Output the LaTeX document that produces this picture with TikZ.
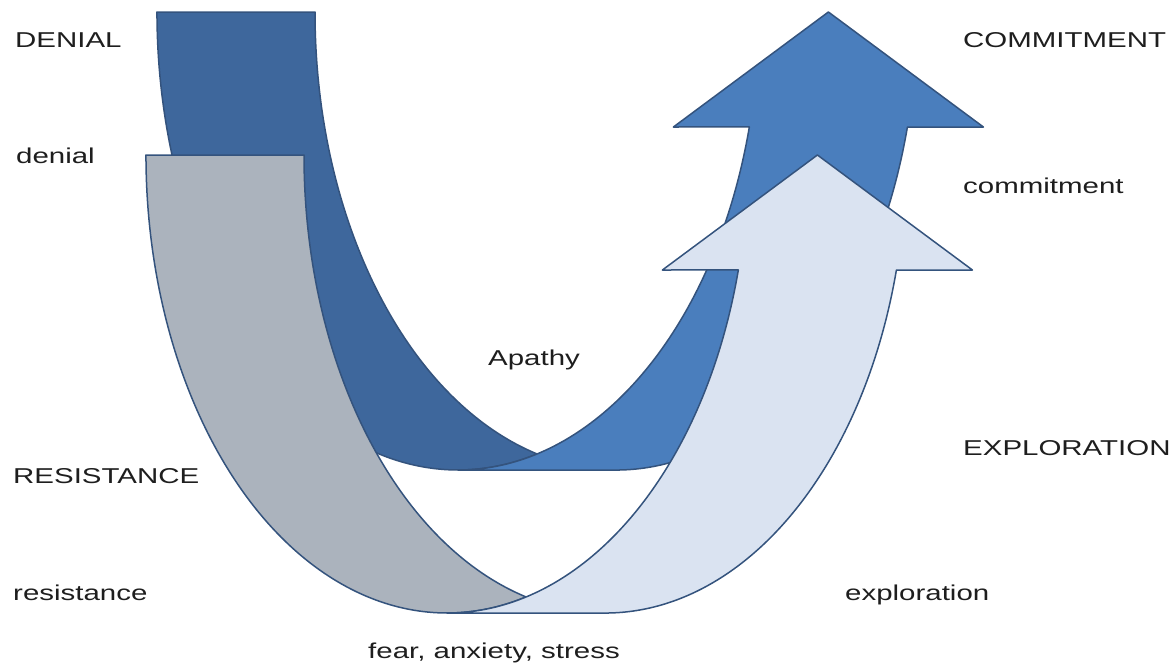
\documentclass[tikz,border=0pt]{standalone}
\usepackage{fontspec}
\newfontfamily\stagefont[FakeStretch=1.37]{Liberation Sans}

\definecolor{backblue}{HTML}{3E679C}
\definecolor{frontblue}{HTML}{4A7EBD}
\definecolor{backgray}{HTML}{ABB3BD}
\definecolor{frontpale}{HTML}{DAE3F1}
\definecolor{rim}{HTML}{34537D}
\definecolor{ink}{HTML}{1E1E1E}

\begin{document}
\begin{tikzpicture}[
    x=1pt, y=-1pt,
    band/.style   = {draw=rim, line width=1.5pt, line join=round},
    ell/.style    = {x radius=301, y radius=458},
    stage/.style  = {font=\stagefont\fontsize{21.5}{24}\selectfont,
                     text=ink, inner sep=0pt, anchor=base west},
]
\useasboundingbox (0,0) rectangle (1176,664);

% ============================================================
%  U-ARROW GEOMETRY (pixel grid, y downwards)
%   left ellipse  E1 : centre (458, 12)
%   right ellipse E2 : centre (616, 12)
%   radii 301 x 458, shaft 158, head 310 wide / 115 high
% ============================================================

% ----------------------------------------------------------
%  UPPER ARROW  –  denial -> apathy -> commitment
% ----------------------------------------------------------
% back part (left leg, dark)
\draw[band, fill=backblue]
    (157,12) -- (315,12)
    arc[start angle=180, end angle=105.22, ell]
    arc[start angle=74.78, end angle=180, ell] -- cycle;
% front part (rising arrow)
\draw[band, fill=frontblue]
    (828.4,12) -- (983.4,127) -- (907.4,127)
    arc[start angle=14.54, end angle=90, ell]
    -- (458,470)
    arc[start angle=90, end angle=14.54, ell]
    -- (673.4,127) -- cycle;

% ----------------------------------------------------------
%  LOWER ARROW  –  resistance -> fear -> exploration
% ----------------------------------------------------------
\begin{scope}[shift={(-11,143)}]
% back part (left leg, grey)
\draw[band, fill=backgray]
    (157,12) -- (315,12)
    arc[start angle=180, end angle=105.22, ell]
    arc[start angle=74.78, end angle=180, ell] -- cycle;
% front part (rising arrow)
\draw[band, fill=frontpale]
    (828.4,12) -- (983.4,127) -- (907.4,127)
    arc[start angle=14.54, end angle=90, ell]
    -- (458,470)
    arc[start angle=90, end angle=14.54, ell]
    -- (673.4,127) -- cycle;
\end{scope}

% ============================================================
%  STAGE LABELS
% ============================================================
\node[stage] (denialHead)  at (15,47)   {DENIAL};
\node[stage] (denialSub)   at (16,163)  {denial};
\node[stage] (resistHead)  at (13,483)  {RESISTANCE};
\node[stage] (resistSub)   at (13,600)  {resistance};
\node[stage] (apathy)      at (488,365) {Apathy};
\node[stage] (fear)        at (368,658) {fear, anxiety, stress};
\node[stage] (commitHead)  at (963,47)  {COMMITMENT};
\node[stage] (commitSub)   at (963,193) {commitment};
\node[stage] (exploreHead) at (963,455) {EXPLORATION};
\node[stage] (exploreSub)  at (845,600) {exploration};

\end{tikzpicture}
\end{document}
